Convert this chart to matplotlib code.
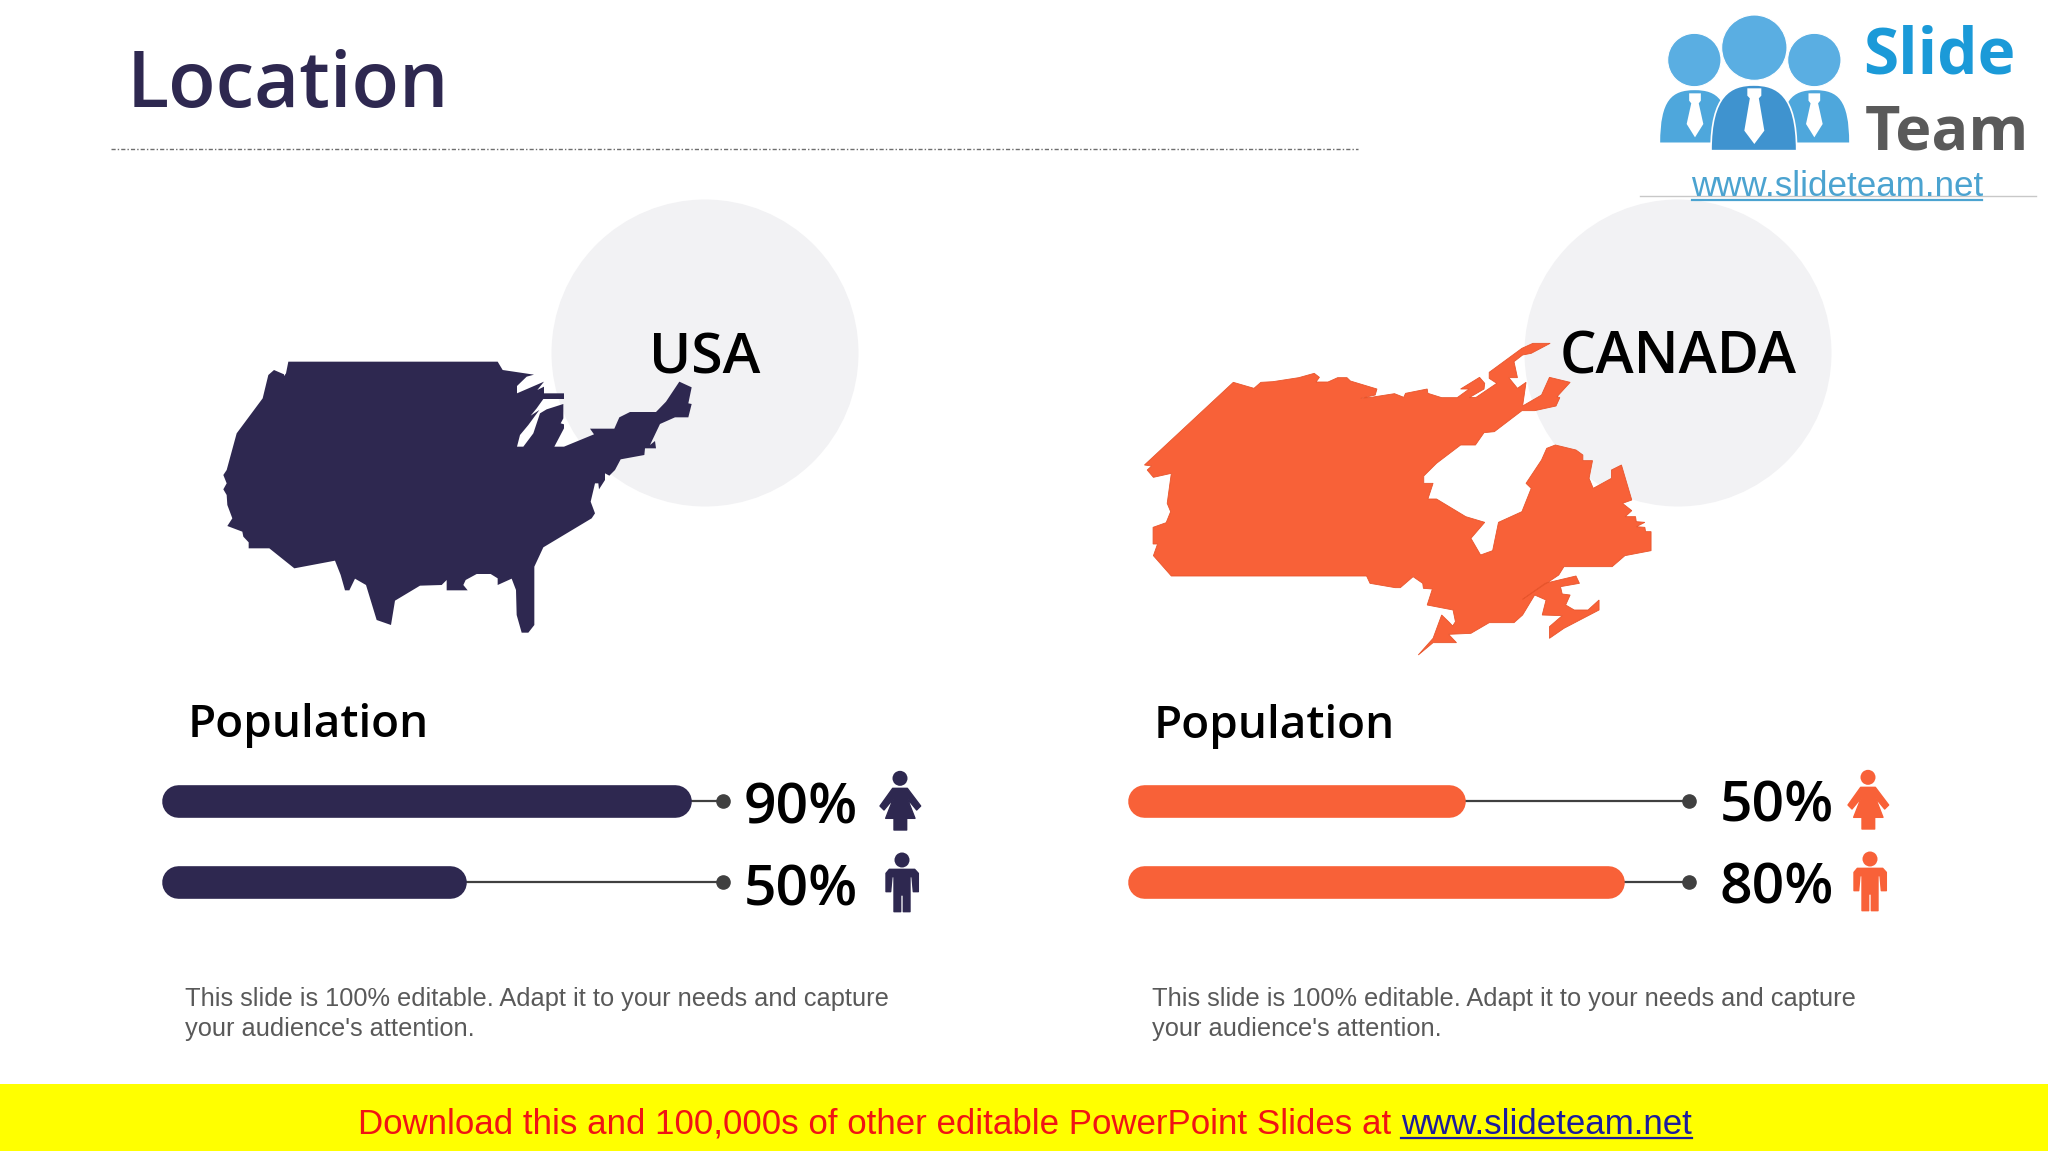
import matplotlib
matplotlib.use("Agg")
import matplotlib.pyplot as plt
from matplotlib.patches import Circle, Polygon, PathPatch
from matplotlib.path import Path

NAVY = '#2e2850'
ORANGE = '#f86138'
GREY_DOT = '#404040'
DISC = '#f2f2f4'
HEAD = 'Open Sans'

# bar lengths, as share of the thin line
usa_fill = [94.3, 54.2]
canada_fill = [60.0, 88.4]
usa_labels = ['90%', '50%']
canada_labels = ['50%', '80%']
country_names = ['USA', 'CANADA']
blurb = "This slide is 100% editable. Adapt it to your needs and capture\nyour audience's attention."

usa_outline = [(265,95),(893,95),(908,120),(1002,134),(980,140),(951,168),(951,190),(1032,155),(1012,180),(1032,170),
    (1032,190),(1092,190),(1092,207),(1030,207),(1010,235),(992,257),(1018,240),(985,285),(960,315),(951,350),(970,350),
    (1000,310),(1020,250),(1040,238),(1090,222),(1090,265),(1082,280),(1092,283),(1092,295),(1063,350),(1092,350),
    (1182,313),(1170,296),(1243,296),(1258,262),(1290,246),(1368,246),(1398,215),(1438,155),(1475,172),(1465,220),
    (1475,222),(1465,262),(1425,262),(1380,282),(1350,345),(1365,333),(1368,355),(1335,355),(1333,375),(1262,388),
    (1245,420),(1228,437),(1215,430),(1215,450),(1197,478),(1195,460),(1185,460),(1172,515),(1185,550),(1175,565),
    (1030,652),(1003,710),(1003,885),(985,908),(965,908),(950,855),(948,780),(935,746),(893,765),(893,745),(872,732),
    (830,732),(797,750),(790,765),(803,781),(740,781),(740,750),(725,765),(660,767),(585,812),(573,885),(530,870),
    (498,765),(465,746),(448,781),(435,781),(422,735),(405,692),(283,715),(208,655),(146,655),(146,637),(130,620),
    (127,605),(82,588),(97,565),(82,525),(80,495),(70,478),(80,460),(70,435),(80,420),(110,310),(188,205),(205,135),
    (222,120),(252,133),(252,155),(240,155),(258,130)]
canada_outline = [(300,187),(360,205),(380,187),(415,185),(490,173),(535,160),(550,172),(540,186),(575,186),(603,173),
    (630,173),(640,183),(717,207),(712,225),(670,235),(700,232),(768,221),(795,232),(800,220),(863,207),(865,220),
    (905,233),(950,233),(985,207),(960,207),(1015,172),(1030,190),(1028,207),(985,233),(1005,232),(1065,190),(1043,175),
    (1043,157),(1138,85),(1170,70),(1220,70),(1165,100),(1140,105),(1115,125),(1125,173),(1100,173),(1125,205),(1150,187),
    (1140,258),(1195,225),(1218,172),(1278,187),(1240,230),(1248,233),(1237,258),(1175,272),(1138,272),(1058,335),
    (1028,338),(1003,375),(960,375),(890,430),(853,468),(853,490),(880,490),(865,537),(890,537),(975,590),(1030,607),
    (990,655),(1018,705),(1053,692),(1070,607),(1138,575),(1165,505),(1150,490),(1195,420),(1210,385),(1235,375),
    (1295,390),(1315,405),(1315,422),(1343,422),(1333,475),(1345,505),(1398,475),(1398,450),(1427,435),(1457,540),
    (1430,550),(1457,572),(1438,590),(1468,590),(1470,605),(1495,607),(1470,620),(1495,622),(1497,635),(1513,635),
    (1513,692),(1437,707),(1400,740),(1260,740),(1245,765),(1140,838),(1205,790),(1295,768),(1305,790),(1250,800),
    (1255,822),(1278,825),(1265,855),(1290,870),(1330,870),(1362,840),(1362,870),(1260,925),(1218,955),(1218,920),
    (1255,887),(1197,885),(1208,840),(1175,825),(1140,885),(1115,908),(1043,908),(990,940),(925,943),(948,968),(880,968),
    (837,1005),(880,955),(905,885),(925,905),(937,918),(945,905),(938,870),(863,855),(878,807),(852,805),(850,790),
    (822,770),(785,803),(770,803),(697,790),(687,768),(120,768),(68,707),(80,672),(67,672),(67,622),(105,608),(118,575),
    (108,550),(120,460),(68,472),(50,450),(63,438),(42,435)]


def crop_to_page(points, left, top, xscale=3.0, yscale=3.0):
    return [(left + x / xscale, top + y / yscale) for x, y in points]


fig = plt.figure(figsize=(20.48, 11.52), dpi=100)
ax = fig.add_axes([0, 0, 1, 1])
ax.set_xlim(0, 2048)
ax.set_ylim(1152, 0)
ax.axis('off')

# header
ax.text(127, 107, 'Location', family=HEAD, weight=600, fontsize=56, color=NAVY)
ax.plot([111, 1358], [149, 149], color='#6e6e6e', lw=1, ls=(0, (3, 1.5, 1, 1.5)))

# discs and maps
ax.add_patch(Circle((705, 353), 153.5, color=DISC, lw=0))
ax.add_patch(Circle((1678, 353), 153.5, color=DISC, lw=0))
ax.add_patch(Polygon(crop_to_page(usa_outline, 200, 330), closed=True, facecolor=NAVY, edgecolor='none'))
# canada crop came back narrower than 3x across
ax.add_patch(Polygon(crop_to_page(canada_outline, 1130, 320, xscale=1568 / 540), closed=True, facecolor=ORANGE,
                     edgecolor='#e8552c', lw=0.6))
ax.text(705, 374, country_names[0], family=HEAD, weight=600, fontsize=41, color='black', ha='center')
ax.text(1678, 374, country_names[1], family=HEAD, weight=600, fontsize=41.5, color='black', ha='center')

# population blocks
ax.text(188, 737, 'Population', family=HEAD, weight=600, fontsize=33, color='black')
ax.text(1154, 738, 'Population', family=HEAD, weight=600, fontsize=33, color='black')

TRACK_W = 561
CAP = 16.0 / TRACK_W * 100   # bar end radius in axis units


def draw_bars(left, fills, color):
    bar_ax = fig.add_axes([left / 2048, 1 - 882 / 1152, TRACK_W / 2048, 81 / 1152])
    bar_ax.set_xlim(0, 100)
    bar_ax.set_ylim(1, 0)
    bar_ax.axis('off')
    for row, fill in enumerate(fills):
        bar_ax.plot([fill, 100], [row, row], color=GREY_DOT, lw=1.6, clip_on=False)
        bar_ax.plot([100], [row], 'o', color=GREY_DOT, ms=9.5, clip_on=False)
        bar_ax.plot([CAP, fill - CAP], [row, row], color=color, lw=23.5, solid_capstyle='round', clip_on=False)


draw_bars(162, usa_fill, NAVY)
draw_bars(1128, canada_fill, ORANGE)

for label, base in zip(usa_labels, [824, 905]):
    ax.text(744, base, label, family=HEAD, weight=600, fontsize=41, color='black')
for label, base in zip(canada_labels, [822, 904]):
    ax.text(1720, base, label, family=HEAD, weight=600, fontsize=41, color='black')

ax.text(185, 1036, blurb, family='Liberation Sans', fontsize=18.3, color='#595959', linespacing=1.33)
ax.text(1152, 1036, blurb, family='Liberation Sans', fontsize=18.3, color='#595959', linespacing=1.33)

# people icons, outlines in crop units of the usa row
woman = [(578,85),(622,85),(662,138),(650,150),(622,116),(645,175),(620,175),(620,210),(582,210),(582,175),(557,175),
         (580,116),(552,150),(540,138)]
man = [(568,328),(644,328),(655,340),(655,395),(640,395),(636,350),(630,350),(630,455),(610,455),(610,405),(602,405),
       (602,455),(582,455),(582,350),(576,350),(572,395),(558,395),(558,340)]


def draw_people(dx, dy, color):
    ax.add_patch(Circle((700 + 600 / 3 + dx, 760 + 55 / 3 + dy), 7.5, color=color, lw=0))
    ax.add_patch(Polygon(crop_to_page(woman, 700 + dx, 760 + dy), closed=True, facecolor=color, edgecolor=color,
                         lw=1, joinstyle='round'))
    ax.add_patch(Circle((700 + 606 / 3 + dx, 760 + 300 / 3 + dy), 7.5, color=color, lw=0))
    ax.add_patch(Polygon(crop_to_page(man, 700 + dx, 760 + dy), closed=True, facecolor=color, edgecolor=color,
                         lw=1, joinstyle='round'))


draw_people(0, 0, NAVY)
draw_people(968, -1, ORANGE)

# logo, crop units offset 1630,0
LOGO_BLUE = '#4ea7dc'
LOGO_DARK = '#3f93cf'


def dome(x0, x1, top, bottom, color):
    mid = (x0 + x1) / 2
    verts = [(x0, bottom), (x0, top + 30), (mid - 70, top), (mid, top), (mid + 70, top), (x1, top + 30), (x1, bottom), (x0, bottom)]
    codes = [Path.MOVETO, Path.CURVE4, Path.CURVE4, Path.CURVE4, Path.CURVE4, Path.CURVE4, Path.CURVE4, Path.CLOSEPOLY]
    ax.add_patch(PathPatch(Path(crop_to_page(verts, 1630, 0), codes), facecolor=color, edgecolor='white', lw=1.2))


def tie(cx, top, bottom, half):
    pts = [(cx - half * 0.7, top), (cx + half * 0.7, top), (cx + half * 0.7, top + 22), (cx + half * 0.45, top + 30),
           (cx + half, bottom - 40), (cx, bottom), (cx - half, bottom - 40), (cx - half * 0.45, top + 30),
           (cx - half * 0.7, top + 22)]
    ax.add_patch(Polygon(crop_to_page(pts, 1630, 0), closed=True, facecolor='white', edgecolor='none'))


for cx, cy, r in [(193, 180, 80), (553, 180, 80), (373, 143, 98)]:
    ax.add_patch(Circle((1630 + cx / 3, cy / 3), r / 3, facecolor='#5aaee2', edgecolor='white', lw=0.8))
dome(88, 300, 268, 430, LOGO_BLUE)
dome(450, 660, 268, 430, LOGO_BLUE)
dome(243, 500, 255, 452, LOGO_DARK)
tie(195, 280, 412, 25)
tie(553, 280, 412, 25)
tie(373, 265, 432, 30)

ax.text(1863, 74, 'Slide', family=HEAD, weight='bold', fontsize=46, color='#1b9ad8')
ax.text(1865, 150, 'Team', family=HEAD, weight='bold', fontsize=44, color='#5a5a5a')
ax.plot([1640, 2036], [195.5, 195.5], color='#c8c8c8', lw=1)
ax.text(1837, 196, 'www.slideteam.net', family='Liberation Sans', fontsize=25.2, color='#4ba3d0', ha='center')
ax.plot([1692, 1982], [200, 200], color='#4ba3d0', lw=1.6)

# footer
ax.axhspan(1084, 1151, color='#ffff00', lw=0)
red = ax.text(358, 1134, 'Download this and 100,000s of other editable PowerPoint Slides at ', family='Liberation Sans',
              fontsize=25.1, color='#f01414')
fig.canvas.draw()
box = red.get_window_extent()
link = ax.text(box.x1, 1134, 'www.slideteam.net', family='Liberation Sans', fontsize=25.1, color='#1c1c9c')
lb = link.get_window_extent()
ax.plot([lb.x0, lb.x1], [1138, 1138], color='#1c1c9c', lw=1.6)

fig.savefig('out.png', dpi=100)
